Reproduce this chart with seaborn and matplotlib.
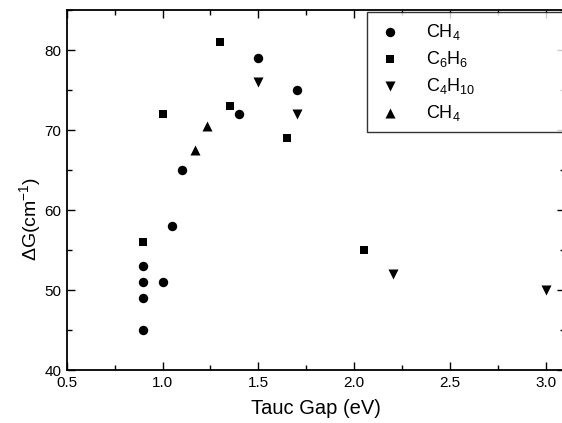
import matplotlib
matplotlib.use("Agg")
import matplotlib.pyplot as plt
import seaborn as sns
import pandas as pd
from matplotlib.ticker import MultipleLocator

sns.set_theme(style="white")
plt.rcParams['font.family'] = ['Liberation Sans', 'DejaVu Sans']
plt.rcParams['mathtext.fontset'] = 'custom'
plt.rcParams['mathtext.rm'] = 'Liberation Sans'
plt.rcParams['mathtext.it'] = 'Liberation Sans'

# Data
ch4_a_x = [0.9, 0.9, 0.9, 0.9, 1.0, 1.05, 1.1, 1.4, 1.5, 1.7]
ch4_a_y = [45, 49, 51, 53, 51, 58, 65, 72, 79, 75]
c6h6_x = [0.9, 1.0, 1.3, 1.35, 1.65, 2.05]
c6h6_y = [56, 72, 81, 73, 69, 55]
c4h10_x = [1.5, 1.7, 2.2, 3.0]
c4h10_y = [76, 72, 52, 50]
ch4_b_x = [1.17, 1.23]
ch4_b_y = [67.5, 70.5]

series_labels = ["CH$_4$", "C$_6$H$_6$", "C$_4$H$_{10}$", "CH$_4$"]
series_markers = ["o", "s", "v", "^"]
series_sizes = [46, 38, 52, 52]

W, H = 562, 423
fig = plt.figure(figsize=(W / 100, H / 100), dpi=100)
left, right, bottom, top = 66.7, 565, 370, 10
ax = fig.add_axes([left / W, 1 - bottom / H, (right - left) / W, (bottom - top) / H])

data = [(ch4_a_x, ch4_a_y), (c6h6_x, c6h6_y), (c4h10_x, c4h10_y), (ch4_b_x, ch4_b_y)]
for (xs, ys), lab, mk, sz in zip(data, series_labels, series_markers, series_sizes):
    df = pd.DataFrame({"x": xs, "y": ys})
    sns.scatterplot(data=df, x="x", y="y", ax=ax, marker=mk, s=sz, color="black",
                    edgecolor="black", linewidth=0, label=lab)

ax.set_xlim(0.5, 3.1)
ax.set_ylim(40, 85)
ax.xaxis.set_major_locator(MultipleLocator(0.5))
ax.xaxis.set_minor_locator(MultipleLocator(0.25))
ax.yaxis.set_major_locator(MultipleLocator(10))
ax.yaxis.set_minor_locator(MultipleLocator(5))
ax.tick_params(which="both", direction="in", top=True, right=True, bottom=True, left=True,
               color="black", width=1.0)
ax.tick_params(which="major", length=6, labelsize=11, labelcolor="black", pad=4)
ax.tick_params(which="minor", length=3.5)
for s in ax.spines.values():
    s.set_color("black")
    s.set_linewidth(1.3)

ax.set_xlabel("Tauc Gap (eV)", fontsize=14.5, color="black", labelpad=7)
ax.set_ylabel("$\\Delta$G(cm$^{\\mathregular{-1}}$)", fontsize=14, color="black")
ax.yaxis.set_label_coords(-0.048, 0.42)

lx0 = (367 - left) / (right - left)
ly1 = 1.0 - 2 / (bottom - top)
leg = ax.legend(loc="upper left", bbox_to_anchor=(lx0, ly1 - 0.5, 1.05 - lx0, 0.5), mode="expand",
                frameon=True, fancybox=False, edgecolor="black", fontsize=13,
                handletextpad=1.2, labelspacing=0.38, borderpad=0.55, handlelength=1.5,
                borderaxespad=0)
leg.get_frame().set_linewidth(1.0)
for t in leg.get_texts():
    t.set_color("black")

fig.savefig("out.png", dpi=100)
